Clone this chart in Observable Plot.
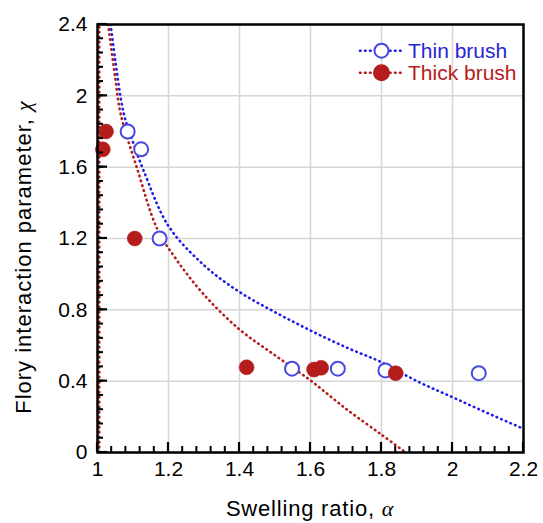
<!DOCTYPE html>
<html><head><meta charset="utf-8">
<script src="https://cdn.jsdelivr.net/npm/d3@7"></script>
<script src="https://cdn.jsdelivr.net/npm/@observablehq/plot@0.6"></script>
<style>body{margin:0;background:#fff} #chart{width:543px;height:523px}</style>
</head><body><div id="chart"></div>
<script>
// Measured points
const thinAlpha = [1.085, 1.123, 1.175, 1.548, 1.677, 1.811, 2.074];
const thinChi   = [1.80, 1.70, 1.20, 0.47, 0.47, 0.46, 0.445];
const thickAlpha = [1.024, 1.015, 1.105, 1.42, 1.61, 1.63, 1.84];
const thickChi   = [1.80, 1.70, 1.20, 0.478, 0.465, 0.475, 0.445];
// Model curves
const thinFitAlpha = [1.037, 1.05, 1.074, 1.10, 1.13, 1.2, 1.3, 1.4, 1.5, 1.6, 1.7, 1.8, 1.9, 2.0, 2.1, 2.2];
const thinFitChi   = [2.4, 2.2, 1.90, 1.74, 1.58, 1.27, 1.05, 0.90, 0.787, 0.684, 0.59, 0.506, 0.40, 0.31, 0.22, 0.133];
const thickFitAlpha = [1.03, 1.05, 1.065, 1.112, 1.168, 1.224, 1.3, 1.4, 1.5, 1.6, 1.7, 1.8, 1.868];
const thickFitChi   = [2.4, 2.1, 1.90, 1.59, 1.255, 1.077, 0.885, 0.69, 0.545, 0.404, 0.245, 0.10, 0];
const thickBranchAlpha = [1.005, 1.005];
const thickBranchChi   = [0, 2.4];
// Axes
const xMajor = [1, 1.2, 1.4, 1.6, 1.8, 2, 2.2];
const xLabels = ["1", "1.2", "1.4", "1.6", "1.8", "2", "2.2"];
const yMajor = [0, 0.4, 0.8, 1.2, 1.6, 2, 2.4];
const yLabels = ["0", "0.4", "0.8", "1.2", "1.6", "2", "2.4"];
const xMinor = d3.range(0, 31).map(i => 1 + i * 0.04);
const yMinor = d3.range(0, 31).map(i => i * 0.08);
const seriesNames = ["Thin brush", "Thick brush"];

const W = 543, H = 523, ML = 97, MR = 20, MT = 24, MB = 71;
const BLUE = "#1e1ee8", BLUE_PT = "#4848e2", RED = "#b51c1c";
const zip = (a, b) => a.map((v, i) => ({a: v, c: b[i]}));
const thin = zip(thinAlpha, thinChi), thick = zip(thickAlpha, thickChi);
const thinFit = zip(thinFitAlpha, thinFitChi), thickFit = zip(thickFitAlpha, thickFitChi);
const thickBranch = zip(thickBranchAlpha, thickBranchChi);
const DASH = "0.6,4.4";
const dash = {strokeWidth: 2.6, strokeDasharray: DASH, strokeLinecap: "round", clip: true};
const FONT = "'Liberation Sans', Arial, Helvetica, sans-serif";

const chart = Plot.plot({
  width: W, height: H,
  marginLeft: ML, marginRight: MR, marginTop: MT, marginBottom: MB,
  x: {domain: [1, 2.2]},
  y: {domain: [0, 2.4]},
  style: {fontFamily: FONT, background: "white", color: "black"},
  marks: [
    Plot.gridX(xMajor, {stroke: "#d6d6d6", strokeOpacity: 1, strokeWidth: 1.5}),
    Plot.gridY(yMajor, {stroke: "#d6d6d6", strokeOpacity: 1, strokeWidth: 1.5}),
    Plot.line(thickBranch, {x: "a", y: "c", stroke: RED, ...dash}),
    Plot.line(thickFit, {x: "a", y: "c", stroke: RED, curve: "catmull-rom", ...dash}),
    Plot.line(thinFit, {x: "a", y: "c", stroke: BLUE, curve: "catmull-rom", ...dash}),
    Plot.dot(thin, {x: "a", y: "c", r: 7, stroke: BLUE_PT, strokeWidth: 2, fill: "white"}),
    Plot.dot(thick, {x: "a", y: "c", r: 7.5, fill: RED, stroke: RED, strokeWidth: 0.5}),
    Plot.axisX(xMajor, {tickSize: 0, tickPadding: 9, tickFormat: d => xLabels[xMajor.indexOf(d)], fontSize: 21, label: null}),
    Plot.axisY(yMajor, {tickSize: 0, tickPadding: 10, tickFormat: d => yLabels[yMajor.indexOf(d)], fontSize: 21, label: null}),
    Plot.frame({stroke: "black", strokeWidth: 2.5})
  ]
});
document.getElementById("chart").append(chart);

const svg = d3.select(chart);
const xs = chart.scale("x"), ys = chart.scale("y");
const cx = (xs.range[0] + xs.range[1]) / 2;
const bottom = ys.apply(0), left = xs.apply(1);
// Inward ticks (positions from Plot's scales)
const tk = svg.append("g").attr("stroke", "black");
xMinor.forEach(v => tk.append("line").attr("x1", xs.apply(v)).attr("x2", xs.apply(v))
  .attr("y1", bottom).attr("y2", bottom - 6).attr("stroke-width", 2));
xMajor.forEach(v => tk.append("line").attr("x1", xs.apply(v)).attr("x2", xs.apply(v))
  .attr("y1", bottom).attr("y2", bottom - 10).attr("stroke-width", 2.2));
yMinor.forEach(v => tk.append("line").attr("y1", ys.apply(v)).attr("y2", ys.apply(v))
  .attr("x1", left).attr("x2", left + 6).attr("stroke-width", 2));
yMajor.forEach(v => tk.append("line").attr("y1", ys.apply(v)).attr("y2", ys.apply(v))
  .attr("x1", left).attr("x2", left + 10).attr("stroke-width", 2.2));
// Axis titles
const SERIF = "'Liberation Serif', 'DejaVu Serif', serif";
const xt = svg.append("text").attr("x", cx).attr("y", 516).attr("text-anchor", "middle")
  .attr("font-family", FONT).attr("font-size", 22).attr("letter-spacing", "0.8px").attr("fill", "black");
xt.append("tspan").text("Swelling ratio, ");
xt.append("tspan").attr("font-family", SERIF).attr("font-style", "italic").text("α");
const yt = svg.append("text").attr("transform", "translate(31,257) rotate(-90)").attr("text-anchor", "middle")
  .attr("font-family", FONT).attr("font-size", 22).attr("letter-spacing", "1px").attr("fill", "black");
yt.append("tspan").text("Flory interaction parameter, ");
yt.append("tspan").attr("font-family", SERIF).attr("font-style", "italic").text("χ");
// Legend
const legend = [
  {name: seriesNames[0], line: BLUE, pt: BLUE_PT, filled: false, y: 50.7, text: "#2626d6"},
  {name: seriesNames[1], line: RED, pt: RED, filled: true, y: 72.7, text: RED}
];
const lg = svg.append("g");
legend.forEach(e => {
  lg.append("line").attr("x1", 360).attr("x2", 403).attr("y1", e.y).attr("y2", e.y)
    .attr("stroke", e.line).attr("stroke-width", 2.6).attr("stroke-dasharray", DASH).attr("stroke-linecap", "round");
  lg.append("circle").attr("cx", 381.5).attr("cy", e.y).attr("r", e.filled ? 7.5 : 7)
    .attr("fill", e.filled ? e.pt : "white").attr("stroke", e.pt).attr("stroke-width", 2);
  lg.append("text").attr("x", 408).attr("y", e.y + 7.5).attr("text-anchor", "start")
    .attr("font-family", FONT).attr("font-size", 21).attr("fill", e.text).text(e.name);
});
</script></body></html>
